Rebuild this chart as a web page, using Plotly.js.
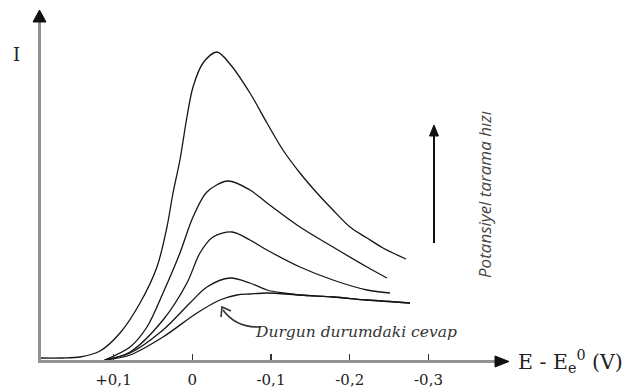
<!DOCTYPE html>
<html>
<head>
<meta charset="utf-8">
<script src="https://cdn.plot.ly/plotly-3.0.1.min.js"></script>
<style>html,body{margin:0;padding:0;background:#fff;}#chart{width:622px;height:389px;}</style>
</head>
<body>
<div id="chart"></div>
<script>
// Potential (E - Ee0, V) and current (arbitrary units) for each scan rate
const E_c1 = [0.1933, 0.1650, 0.1425, 0.1171, 0.0917, 0.0663, 0.0448, 0.0321, 0.0244, 0.0156, 0.0067, -0.0010, -0.0137, -0.0314, -0.0479, -0.0733, -0.0949, -0.1152, -0.1368, -0.1584, -0.1787, -0.2003, -0.2219, -0.2422, -0.2714];
const I_c1 = [3, 3, 4, 10, 28, 58, 94, 134, 168, 201, 244, 274, 298, 309, 297, 268, 238, 211, 188, 168, 151, 134, 123, 113, 102];

const E_c2 = [0.1111, 0.0790, 0.0575, 0.0371, 0.0156, -0.0010, -0.0187, -0.0454, -0.0733, -0.0949, -0.1368, -0.1787, -0.2219, -0.2473];
const I_c2 = [1, 14, 34, 68, 108, 144, 169, 180, 171, 158, 134, 114, 94, 83];

const E_c3 = [0.1111, 0.0790, 0.0371, 0.0067, -0.0098, -0.0263, -0.0505, -0.0733, -0.0949, -0.1368, -0.1787, -0.2219, -0.2511];
const I_c3 = [1, 9, 41, 78, 108, 124, 129, 121, 111, 94, 81, 71, 68];

const E_c4 = [0.1111, 0.0790, 0.0371, 0.0029, -0.0187, -0.0479, -0.0733, -0.0949, -0.1152, -0.1368, -0.1787, -0.2219, -0.2765];
const I_c4 = [1, 8, 31, 58, 74, 83, 78, 71, 68, 66, 64, 61, 58];

// steady-state response
const E_ss = [0.1111, 0.0790, 0.0371, -0.0060, -0.0352, -0.0568, -0.0733, -0.0949, -0.1368, -0.1787, -0.2219, -0.2765];
const I_ss = [1, 6, 24, 48, 61, 66, 67, 68, 66, 64, 61, 58];

const tickVals = [0.1, 0, -0.1, -0.2, -0.3];
const tickText = ['+0,1', '0', '-0,1', '-0,2', '-0,3'];

const curves = [[E_c1, I_c1], [E_c2, I_c2], [E_c3, I_c3], [E_c4, I_c4], [E_ss, I_ss]];

const traces = curves.map(c => ({
  x: c[0], y: c[1], type: 'scatter', mode: 'lines',
  line: {color: '#151515', width: 1.3, shape: 'spline', smoothing: 0.9},
  hoverinfo: 'skip', showlegend: false
}));

// pixel -> paper helpers for decorations
const L = 40, R = 510, T = 13, B = 361;
const X = px => (px - L) / (R - L);
const Y = py => (B - py) / (B - T);
const P = (px, py) => X(px).toFixed(5) + ',' + Y(py).toFixed(5);

const axisGrey = '#929292';
const shapes = [
  // axes lines
  {type: 'line', xref: 'paper', yref: 'paper', x0: X(39.5), y0: Y(362), x1: X(39.5), y1: Y(22), line: {color: axisGrey, width: 3}},
  {type: 'line', xref: 'paper', yref: 'paper', x0: X(38), y0: Y(361.5), x1: X(497), y1: Y(361.5), line: {color: axisGrey, width: 3}},
  // arrowheads
  {type: 'path', xref: 'paper', yref: 'paper', path: 'M' + P(39.5, 10) + 'L' + P(46, 22) + 'L' + P(33, 22) + 'Z', fillcolor: '#111', line: {color: '#111', width: 1}},
  {type: 'path', xref: 'paper', yref: 'paper', path: 'M' + P(509, 361.5) + 'L' + P(495, 356) + 'L' + P(495, 367) + 'Z', fillcolor: '#111', line: {color: '#111', width: 1}},
  // vertical scan-rate arrow
  {type: 'line', xref: 'paper', yref: 'paper', x0: X(434), y0: Y(243), x1: X(434), y1: Y(134), line: {color: '#111', width: 2}},
  {type: 'path', xref: 'paper', yref: 'paper', path: 'M' + P(434, 125) + 'L' + P(438.5, 136) + 'L' + P(429.5, 136) + 'Z', fillcolor: '#111', line: {color: '#111', width: 1}},
  // curved pointer to steady-state curve
  {type: 'path', xref: 'paper', yref: 'paper', path: 'M' + P(261, 327) + 'Q' + P(236, 328) + ' ' + P(223, 310), line: {color: '#333', width: 1.6}},
  {type: 'path', xref: 'paper', yref: 'paper', path: 'M' + P(221, 317) + 'L' + P(222, 307) + 'L' + P(231, 311), line: {color: '#333', width: 1.6}}
];

const annotations = [
  {xref: 'paper', yref: 'paper', x: X(16), y: Y(54), text: 'I', showarrow: false, xanchor: 'center', yanchor: 'middle',
   font: {family: 'DejaVu Serif', size: 18, color: '#222'}},
  {xref: 'paper', yref: 'paper', x: X(516), y: Y(362), text: 'E - E<sub>e</sub><sup>0</sup> (V)', showarrow: false, xanchor: 'left', yanchor: 'middle',
   font: {family: 'DejaVu Serif', size: 20.5, color: '#222'}},
  {xref: 'paper', yref: 'paper', x: X(253), y: Y(332), text: '<i>Durgun durumdaki cevap</i>', showarrow: false, xanchor: 'left', yanchor: 'middle',
   font: {family: 'DejaVu Serif', size: 15.5, color: '#333'}},
  {xref: 'paper', yref: 'paper', x: X(484), y: Y(195), text: '<i>Potansiyel tarama hızı</i>', showarrow: false, textangle: -90, xanchor: 'center', yanchor: 'middle',
   font: {family: 'Open Sans', size: 17, color: '#444'}}
];

const layout = {
  width: 622, height: 389,
  margin: {l: L, r: 622 - R, t: T, b: 389 - B, pad: 0},
  paper_bgcolor: '#fff', plot_bgcolor: '#fff',
  xaxis: {range: [0.1933, -0.4035], autorange: false, showgrid: false, zeroline: false, showline: false,
          tickvals: tickVals, ticktext: tickText, ticks: 'inside', ticklen: 7, tickwidth: 1.3, tickcolor: '#333',
          ticklabelstandoff: 8, tickfont: {family: 'DejaVu Serif', size: 15, color: '#222'}},
  yaxis: {range: [0, 348], autorange: false, visible: false, showgrid: false, zeroline: false},
  shapes: shapes,
  annotations: annotations,
  showlegend: false
};

Plotly.newPlot('chart', traces, layout, {staticPlot: true, displayModeBar: false});
</script>
</body>
</html>
